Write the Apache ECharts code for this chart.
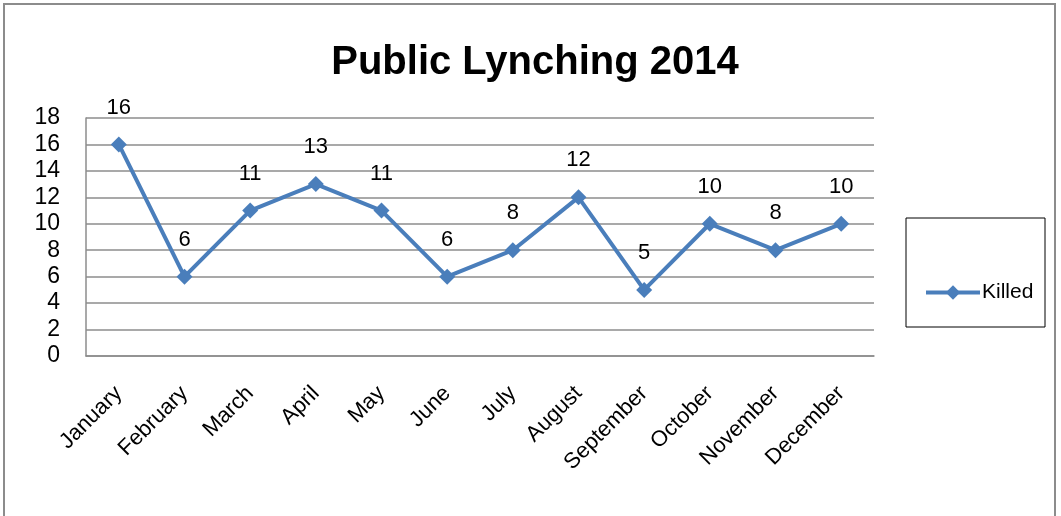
<!DOCTYPE html>
<html>
<head>
<meta charset="utf-8">
<script src="https://cdn.jsdelivr.net/npm/echarts@6/dist/echarts.min.js"></script>
<style>
  html, body { margin: 0; padding: 0; background: #fff; }
  #chart { width: 1061px; height: 516px; }
</style>
</head>
<body>
<div id="chart"></div>
<script>
// months on the x axis
var months = ['January', 'February', 'March', 'April', 'May', 'June',
  'July', 'August', 'September', 'October', 'November', 'December'];
// killed per month
var killed = [16, 6, 11, 13, 11, 6, 8, 12, 5, 10, 8, 10];
// y axis ticks
var yTicks = [0, 2, 4, 6, 8, 10, 12, 14, 16, 18];

var font = 'Liberation Sans';
var chart = echarts.init(document.getElementById('chart'));

var option = {
  backgroundColor: '#fff',
  animation: false,
  title: {
    text: 'Public Lynching 2014',
    left: 530,
    textAlign: 'center',
    top: 38,
    textStyle: { fontFamily: font, fontWeight: 'bold', fontSize: 40, color: '#000' }
  },
  // outer frame and legend box
  graphic: [
    {
      type: 'rect',
      shape: { x: 4, y: 4, width: 1051, height: 530 },
      style: { fill: null, stroke: '#8c8c8c', lineWidth: 2 }
    },
    {
      type: 'rect',
      shape: { x: 906, y: 218, width: 139, height: 109 },
      style: { fill: null, stroke: '#000', lineWidth: 1 }
    }
  ],
  legend: {
    data: ['Killed'],
    left: 919,
    top: 277,
    itemWidth: 54,
    itemHeight: 18,
    itemGap: 4,
    lineStyle: { width: 4 },
    textStyle: { fontFamily: font, fontSize: 21, color: '#000', padding: [0, 0, 0, -3] }
  },
  grid: { left: 86, right: 187, top: 118, bottom: 160 },
  xAxis: {
    type: 'category',
    data: months,
    boundaryGap: true,
    axisLine: { lineStyle: { color: '#8c8c8c', width: 1.5 } },
    axisTick: { show: false },
    axisLabel: {
      rotate: 45,
      margin: 34,
      interval: 0,
      fontFamily: font,
      fontSize: 22,
      color: '#000'
    }
  },
  yAxis: {
    type: 'value',
    min: yTicks[0],
    max: yTicks[yTicks.length - 1],
    interval: 2,
    axisLine: { show: true, lineStyle: { color: '#8c8c8c', width: 1.5 } },
    axisTick: { show: false },
    splitLine: { lineStyle: { color: '#8c8c8c', width: 1.5 } },
    axisLabel: { margin: 26, fontFamily: font, fontSize: 23, color: '#000' }
  },
  series: [
    {
      name: 'Killed',
      type: 'line',
      data: killed,
      symbol: 'diamond',
      symbolSize: 16,
      lineStyle: { color: '#4a7ebb', width: 4 },
      itemStyle: { color: '#4a7ebb' },
      label: {
        show: true,
        position: 'top',
        distance: 18,
        fontFamily: font,
        fontSize: 22,
        color: '#000'
      }
    }
  ]
};

chart.setOption(option);
</script>
</body>
</html>
